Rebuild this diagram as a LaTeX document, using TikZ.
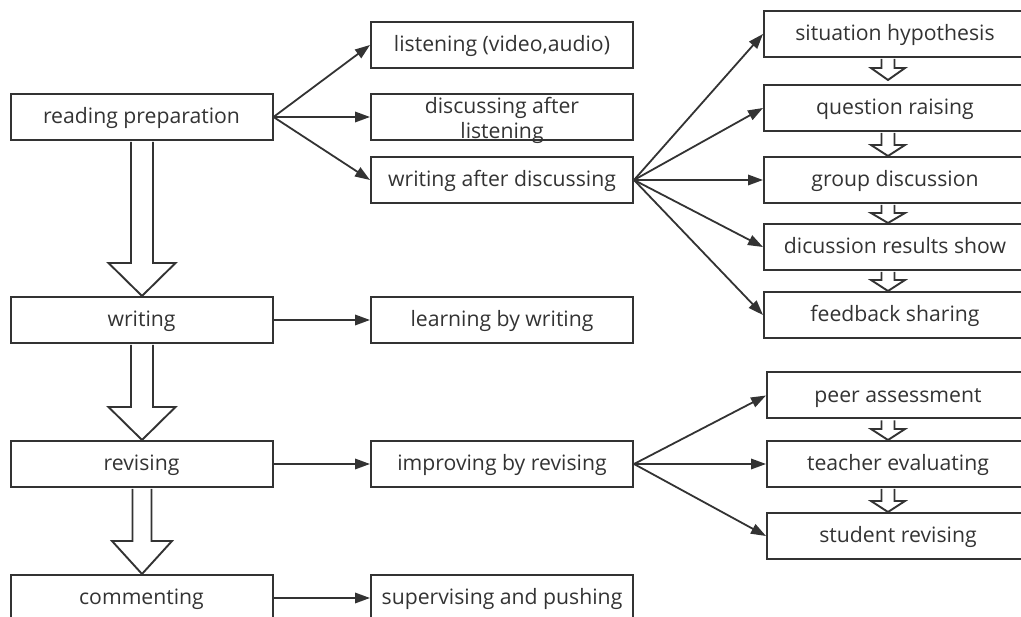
\documentclass[tikz,border=0pt]{standalone}
\usepackage{fontspec}
\setmainfont{Open Sans}
\usetikzlibrary{arrows.meta,calc}
\definecolor{ink}{HTML}{333333}
% #1 from node, #2 to node, #3 shaft half width, #4 head half width, #5 head length, #6 gap at tip, #7 x offset
\newcommand\fatarrow[7]{%
  \draw[hollow] let \p1=(#1.south), \p2=(#2.north) in
    (\x1+#7-#3,\y1-1pt) -- (\x1+#7-#3,\y2+#6+#5) -- (\x1+#7-#4,\y2+#6+#5) --
    (\x1+#7,\y2+#6) -- (\x1+#7+#4,\y2+#6+#5) -- (\x1+#7+#3,\y2+#6+#5) -- (\x1+#7+#3,\y1-1pt);}
\begin{document}
\begin{tikzpicture}[x=1pt,y=-1pt,
  box/.style={draw=ink, line width=2pt, minimum width=262pt, minimum height=46pt,
    inner sep=0pt, text=ink, text height=17pt, text depth=3pt,
    font=\fontsize{21.2}{25}\selectfont},
  lbl/.style={text=ink, font=\fontsize{21.2}{25}\selectfont, inner sep=0pt},
  link/.style={draw=ink, line width=1.8pt, -{Triangle[length=15pt,width=10.5pt]}},
  hollow/.style={draw=ink, line width=1.9pt, fill=white, line join=miter}]
\useasboundingbox (0,0) rectangle (1021,617);
\clip (0,0) rectangle (1021,617);
% left column
\node[box] (rp) at (141.5,117) {reading preparation};
\node[box] (wr) at (141.5,320) {writing};
\node[box] (rv) at (141.5,464) {revising};
\node[box] (cm) at (141.5,598) {commenting};
% middle column
\node[box] (li) at (502,45) {listening (video,audio)};
\node[box] (da) at (502,117) {};
\node[lbl, align=center] at ($(da.center)+(0,3)$) {discussing after\\listening};
\node[box] (wd) at (502,180) {writing after discussing};
\node[box] (lw) at (502,320) {learning by writing};
\node[box] (ir) at (502,464) {improving by revising};
\node[box] (sp) at (502,598) {supervising and pushing};
% right top column
\node[box] (sh) at (895,34) {situation hypothesis};
\node[box] (qr) at (895,108) {question raising};
\node[box] (gd) at (895,180) {group discussion};
\node[box] (dr) at (895,247) {dicussion results show};
\node[box] (fs) at (895,315) {feedback sharing};
% right bottom column
\node[box] (pa) at (898,395.5) {peer assessment};
\node[box] (te) at (898,464) {teacher evaluating};
\node[box] (sr) at (898,536) {student revising};
% thin connectors
\draw[link] (rp.east) -- (li.west);
\draw[link] (rp.east) -- (da.west);
\draw[link] (rp.east) -- (wd.west);
\draw[link] (wd.east) -- (sh.west);
\draw[link] (wd.east) -- (qr.west);
\draw[link] (wd.east) -- (gd.west);
\draw[link] (wd.east) -- (dr.west);
\draw[link] (wd.east) -- (fs.west);
\draw[link] (wr.east) -- (lw.west);
\draw[link] (rv.east) -- (ir.west);
\draw[link] (ir.east) -- (pa.west);
\draw[link] (ir.east) -- (te.west);
\draw[link] (ir.east) -- (sr.west);
\draw[link] (cm.east) -- (sp.west);
% big hollow arrows
\fatarrow{rp}{wr}{11pt}{33.5pt}{33pt}{0pt}{0.5pt}
\fatarrow{wr}{rv}{11pt}{33.5pt}{33pt}{0pt}{0.5pt}
\fatarrow{rv}{cm}{9.5pt}{30pt}{33pt}{0pt}{0.5pt}
% small hollow arrows
\fatarrow{sh}{qr}{6.5pt}{17pt}{12pt}{4pt}{-7pt}
\fatarrow{qr}{gd}{6.5pt}{17pt}{11pt}{0pt}{-7pt}
\fatarrow{gd}{dr}{6.5pt}{17pt}{10pt}{0pt}{-7pt}
\fatarrow{dr}{fs}{6.5pt}{17pt}{11pt}{0pt}{-7pt}
\fatarrow{pa}{te}{6.5pt}{17pt}{11pt}{0pt}{-10pt}
\fatarrow{te}{sr}{6.5pt}{17pt}{11pt}{0pt}{-10pt}
\end{tikzpicture}
\end{document}
